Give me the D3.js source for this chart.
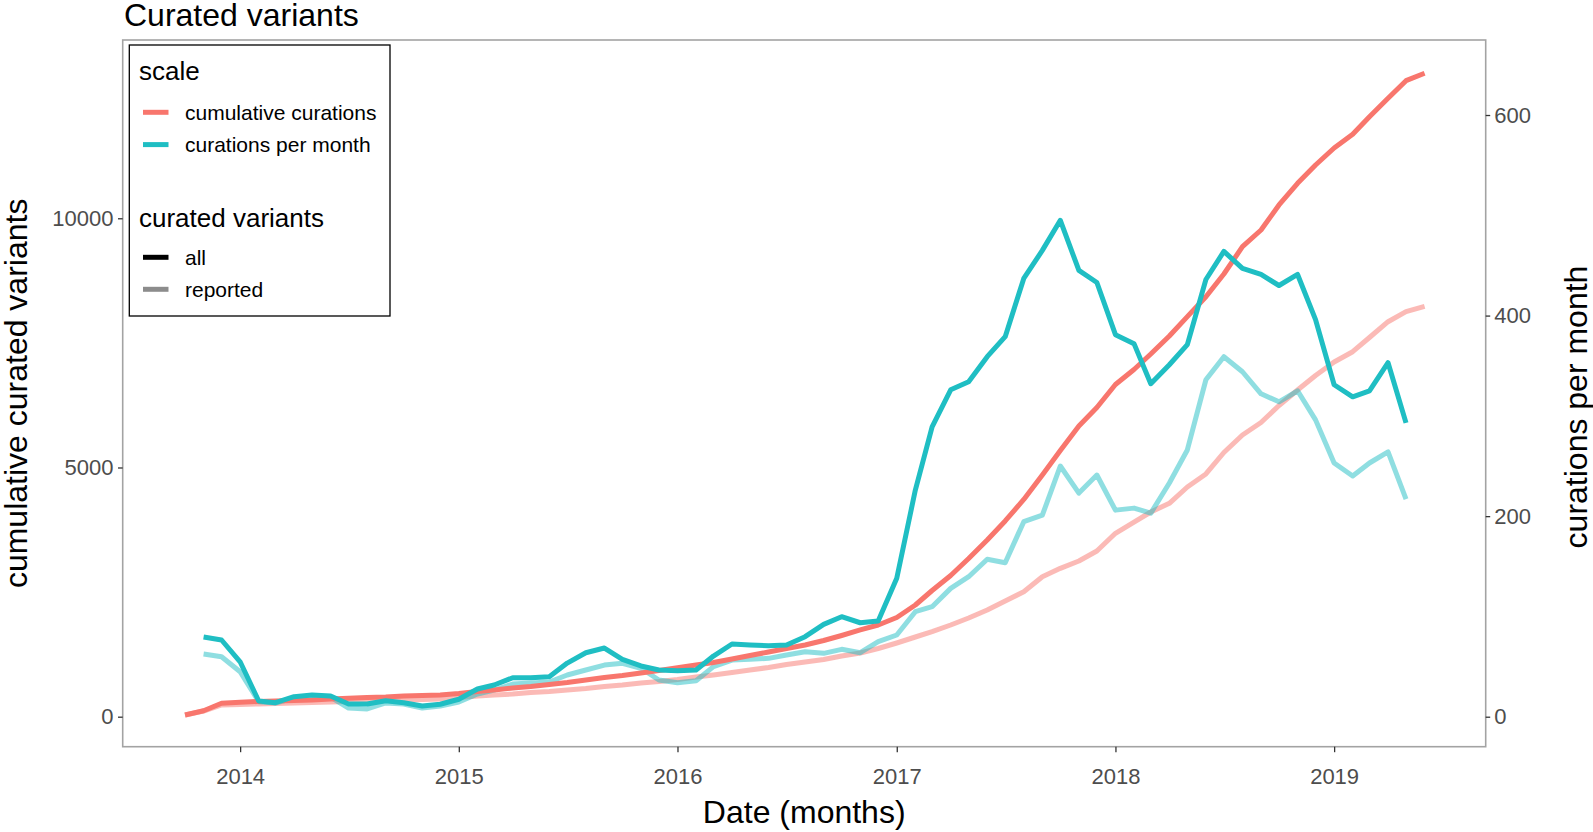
<!DOCTYPE html>
<html lang="en">
<head>
<meta charset="UTF-8">
<title>Curated variants</title>
<script src="https://cdn.jsdelivr.net/npm/d3@7"></script>
<style>
  body { margin: 0; background: #fff; }
  text { font-family: "Liberation Sans", Arial, sans-serif; }
</style>
</head>
<body>
<script>

    // months of the cumulative series (Oct 2013 .. Jun 2019)
    var months = d3.utcMonth.range(new Date(Date.UTC(2013, 9, 1)), new Date(Date.UTC(2019, 6, 1)));
    // monthly series run Nov 2013 .. May 2019
    var perMonthDates = months.slice(1, 68);

    var cumulativeAll = [34, 120, 269,
        289, 305, 315, 325, 335, 355, 369, 385, 395, 415, 425, 435,
        465, 506, 536, 576, 606, 646, 686, 736, 787, 827, 877, 927,
        983, 1037, 1087, 1158, 1228, 1298, 1368, 1439, 1529, 1629, 1740, 1840,
        1990, 2241, 2532, 2833, 3174, 3545, 3927, 4358, 4850, 5341, 5833, 6204,
        6665, 6966, 7277, 7638, 8026, 8427, 8882, 9430, 9765, 10267, 10702, 11069,
        11410, 11685, 12039, 12408, 12761, 12909];

    var cumulativeReported = [34, 114, 235,
        245, 255, 265, 275, 285, 295, 305, 315, 325, 335, 345, 355,
        385, 415, 435, 455, 486, 506, 536, 566, 606, 636, 676, 706,
        746, 797, 837, 887, 937, 987, 1047, 1098, 1148, 1218, 1278, 1368,
        1479, 1599, 1709, 1840, 1980, 2141, 2321, 2508, 2809, 2977, 3124, 3325,
        3680, 3906, 4107, 4282, 4609, 4870, 5301, 5652, 5903, 6244, 6555, 6846,
        7117, 7323, 7608, 7925, 8126, 8233];

    var perMonthAll = [79.5, 76.5,
        54.8, 15.7, 14, 20, 21.6, 20.6, 12.7, 12.7, 16, 14, 10.7, 12.4,
        17.4, 27.6, 31.6, 38.9, 38.9, 39.9, 53.5, 63.8, 68.5, 57.2, 50.6, 46.6,
        45.9, 46.6, 60.5, 72.5, 71.5, 70.8, 71.5, 79.8, 92.1, 99.7, 93.7, 95.4,
        138, 226, 289, 326, 334, 359, 379, 437, 465, 495, 445, 433,
        381, 372, 332, 351, 371, 436, 464, 447, 441, 430, 441, 396,
        331, 319, 325, 353, 293];

    var perMonthReported = [62.5, 59.8,
        44.9, 15, 13.7, 18.6, 19.6, 19.6, 8.7, 7.7, 13.7, 12.7, 8.7, 10.7,
        14.7, 22.6, 26.6, 32.6, 33.6, 34.6, 41.6, 46.6, 51.5, 53.3, 48.3, 36.6,
        33.9, 35.9, 49.9, 56.5, 57.2, 58.2, 61.5, 64.8, 63.2, 67.2, 63.8, 74.8,
        81.5, 104.7, 109.7, 128, 139.6, 157, 153.6, 194.5, 201, 250, 223, 241,
        206, 208, 203, 233, 266, 336, 359, 344, 322, 314, 325, 296,
        253, 240, 253, 264, 217];

    var leftTicks = [0, 5000, 10000];
    var rightTicks = [0, 200, 400, 600];
    var yearTicks = [2014, 2015, 2016, 2017, 2018, 2019];

    var scaleLabels = ["cumulative curations", "curations per month"];
    var variantLabels = ["all", "reported"];

    var red = "#F8766D", teal = "#1FBEC3";
    var W = 1593, H = 832;
    var pLeft = 122.7, pRight = 1485.7, pTop = 40, pBottom = 746.7;

    var svg = d3.select("body").append("svg")
        .attr("width", W).attr("height", H);

    var x = d3.scaleUtc()
        .domain([new Date(Date.UTC(2013, 5, 19)), new Date(Date.UTC(2019, 8, 11))])
        .range([pLeft, pRight]);
    var yL = d3.scaleLinear().domain([-602, 13577]).range([pBottom, pTop]);
    var yR = d3.scaleLinear().domain([-29.9, 674.8]).range([pBottom, pTop]);

    function zip(dates, vals) {
        return vals.map(function(v, i) { return {date: dates[i], value: v}; });
    }

    var lineL = d3.line().x(function(d) { return x(d.date); }).y(function(d) { return yL(d.value); });
    var lineR = d3.line().x(function(d) { return x(d.date); }).y(function(d) { return yR(d.value); });

    var series = [
        {d: lineL(zip(months, cumulativeReported)), color: red, op: 0.5},
        {d: lineR(zip(perMonthDates, perMonthReported)), color: teal, op: 0.5},
        {d: lineL(zip(months, cumulativeAll)), color: red, op: 1},
        {d: lineR(zip(perMonthDates, perMonthAll)), color: teal, op: 1}
    ];

    svg.append("g").selectAll("path")
        .data(series).enter().append("path")
        .attr("d", function(s) { return s.d; })
        .attr("fill", "none")
        .attr("stroke", function(s) { return s.color; })
        .attr("stroke-opacity", function(s) { return s.op; })
        .attr("stroke-width", 5)
        .attr("stroke-linejoin", "round")
        .attr("stroke-linecap", "butt");

    // panel border
    svg.append("rect")
        .attr("x", pLeft).attr("y", pTop)
        .attr("width", pRight - pLeft).attr("height", pBottom - pTop)
        .attr("fill", "none").attr("stroke", "#a3a3a3").attr("stroke-width", 1.6);

    function styleAxis(g) {
        g.select(".domain").remove();
        g.selectAll(".tick line").attr("stroke", "#333").attr("stroke-width", 1.3);
        g.selectAll(".tick text").attr("fill", "#4D4D4D")
            .style("font-size", "22px").style("font-family", "Liberation Sans, Arial, sans-serif");
    }

    svg.append("g").attr("transform", "translate(" + pLeft + ",0)")
        .call(d3.axisLeft(yL).tickValues(leftTicks).tickSize(4.7).tickPadding(4.5).tickFormat(d3.format("d")))
        .call(styleAxis);

    svg.append("g").attr("transform", "translate(" + pRight + ",0)")
        .call(d3.axisRight(yR).tickValues(rightTicks).tickSize(4.5).tickPadding(4).tickFormat(d3.format("d")))
        .call(styleAxis);

    svg.append("g").attr("transform", "translate(0," + pBottom + ")")
        .call(d3.axisBottom(x)
            .tickValues(yearTicks.map(function(y) { return new Date(Date.UTC(y, 0, 1)); }))
            .tickSize(5.5).tickPadding(16).tickFormat(d3.utcFormat("%Y")))
        .call(styleAxis);

    // titles
    svg.append("text").attr("x", 124).attr("y", 26)
        .style("font-size", "32px").attr("fill", "#000").text("Curated variants");

    svg.append("text").attr("x", (pLeft + pRight) / 2).attr("y", 823)
        .attr("text-anchor", "middle").style("font-size", "32px").text("Date (months)");

    svg.append("text")
        .attr("transform", "translate(27," + ((pTop + pBottom) / 2) + ") rotate(-90)")
        .attr("text-anchor", "middle").style("font-size", "32px").text("cumulative curated variants");

    svg.append("text")
        .attr("transform", "translate(1587,407) rotate(-90)")
        .attr("text-anchor", "middle").style("font-size", "32px").text("curations per month");

    // legend
    var lg = svg.append("g");
    lg.append("rect").attr("x", 129.3).attr("y", 45).attr("width", 260.7).attr("height", 271)
        .attr("fill", "#fff").attr("stroke", "#000").attr("stroke-width", 1.3);

    lg.append("text").attr("x", 139).attr("y", 80).style("font-size", "26px").text("scale");
    lg.append("text").attr("x", 139).attr("y", 226.5).style("font-size", "26px").text("curated variants");

    var scaleKeys = [{label: scaleLabels[0], color: red, op: 1, y: 112.3},
                     {label: scaleLabels[1], color: teal, op: 1, y: 144.6}];
    var variantKeys = [{label: variantLabels[0], color: "#000", op: 1, y: 257.3},
                       {label: variantLabels[1], color: "#000", op: 0.45, y: 289.3}];

    var keys = lg.selectAll(".key").data(scaleKeys.concat(variantKeys)).enter()
        .append("g").attr("class", "key");
    keys.append("line")
        .attr("x1", 143).attr("x2", 168.5)
        .attr("y1", function(d) { return d.y; }).attr("y2", function(d) { return d.y; })
        .attr("stroke", function(d) { return d.color; })
        .attr("stroke-opacity", function(d) { return d.op; })
        .attr("stroke-width", 5);
    keys.append("text")
        .attr("x", 185).attr("y", function(d) { return d.y + 7.7; })
        .style("font-size", "21px").text(function(d) { return d.label; });

</script>
</body>
</html>
